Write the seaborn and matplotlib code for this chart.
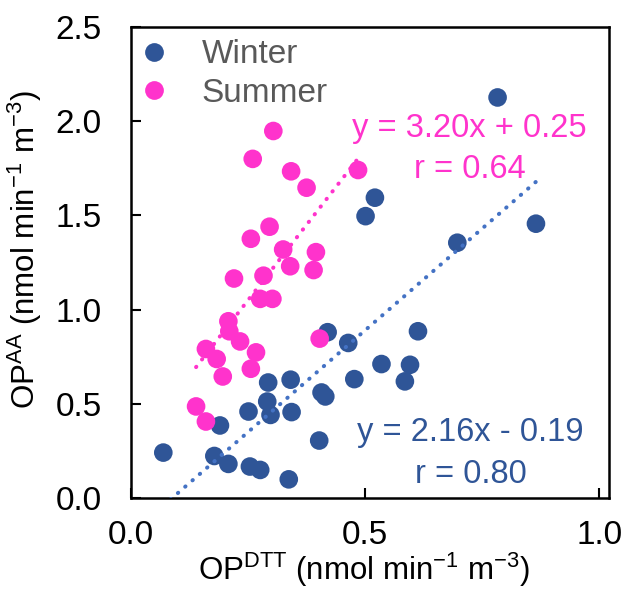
import numpy as np
import pandas as pd
import matplotlib
matplotlib.use("Agg")
import matplotlib.pyplot as plt
import seaborn as sns

# data
winter_dtt = [0.521, 0.501, 0.783, 0.865, 0.697, 0.613, 0.420, 0.464, 0.535, 0.596,
              0.585, 0.293, 0.341, 0.477, 0.407, 0.415, 0.291, 0.251, 0.298, 0.343,
              0.190, 0.402, 0.069, 0.178, 0.208, 0.254, 0.276, 0.337]
winter_aa = [1.594, 1.496, 2.126, 1.456, 1.355, 0.885, 0.880, 0.823, 0.711, 0.707,
             0.619, 0.613, 0.628, 0.631, 0.560, 0.539, 0.512, 0.459, 0.441, 0.456,
             0.385, 0.305, 0.241, 0.223, 0.181, 0.167, 0.149, 0.099]

summer_dtt = [0.304, 0.260, 0.342, 0.375, 0.485, 0.296, 0.256, 0.325, 0.395, 0.340,
              0.390, 0.220, 0.283, 0.276, 0.302, 0.208, 0.210, 0.233, 0.403, 0.160,
              0.183, 0.267, 0.256, 0.196, 0.139, 0.160]
summer_aa = [1.948, 1.800, 1.734, 1.647, 1.741, 1.440, 1.376, 1.319, 1.305, 1.230,
             1.210, 1.165, 1.180, 1.057, 1.057, 0.938, 0.885, 0.831, 0.846, 0.791,
             0.738, 0.773, 0.686, 0.645, 0.486, 0.406]

# trendline coefficients as printed on the chart
winter_fit = (2.16, -0.19)
summer_fit = (3.20, 0.25)
winter_txt = "y = 2.16x - 0.19\nr = 0.80"
summer_txt = "y = 3.20x + 0.25\nr = 0.64"

seasons = ["Winter", "Summer"]
colors = {"Winter": "#2F5597", "Summer": "#FF33CC"}
line_colors = {"Winter": "#4472C4", "Summer": "#FF33CC"}

df = pd.DataFrame({
    "dtt": winter_dtt + summer_dtt,
    "aa": winter_aa + summer_aa,
    "season": ["Winter"] * len(winter_dtt) + ["Summer"] * len(summer_dtt),
})

sns.set_style("ticks")
plt.rcParams["font.family"] = ["Liberation Sans", "DejaVu Sans"]
plt.rcParams["mathtext.fontset"] = "custom"
plt.rcParams["mathtext.rm"] = "Liberation Sans"
plt.rcParams["mathtext.it"] = "Liberation Sans:italic"
plt.rcParams["text.color"] = "black"
plt.rcParams["axes.labelcolor"] = "black"

fig = plt.figure(figsize=(6.34, 5.89), dpi=100)
ax = fig.add_axes([131 / 634, 1 - 498 / 589, 478 / 634, 471 / 589])

sns.scatterplot(data=df, x="dtt", y="aa", hue="season", hue_order=seasons,
                palette=colors, s=180, linewidth=0, alpha=1, ax=ax, zorder=3)

# trendlines over each season's x range
for name, xs, (m, b) in [("Winter", winter_dtt, winter_fit), ("Summer", summer_dtt, summer_fit)]:
    xx = np.array([min(xs), max(xs)])
    ax.plot(xx, m * xx + b, color=line_colors[name], lw=2.9,
            linestyle=(0, (0.1, 2.3)), dash_capstyle="round", zorder=4)

ax.text(0.723, 1.85, summer_txt, color=colors["Summer"], fontsize=23.5,
        ha="center", va="center", linespacing=1.42)
ax.text(0.725, 0.236, winter_txt, color=colors["Winter"], fontsize=23.5,
        ha="center", va="center", linespacing=1.42)

ax.set_xlim(0, 1.021)
ax.set_ylim(0, 2.5)
ax.set_xticks([0, 0.5, 1.0])
ax.set_yticks([0, 0.5, 1.0, 1.5, 2.0, 2.5])
ax.xaxis.set_major_formatter(matplotlib.ticker.FormatStrFormatter("%.1f"))
ax.yaxis.set_major_formatter(matplotlib.ticker.FormatStrFormatter("%.1f"))
ax.tick_params(direction="in", length=7, width=1.5, labelsize=24, pad=16,
               color="black", labelcolor="black", bottom=True, left=True)
ax.tick_params(axis="y", pad=21)
for sp in ax.spines.values():
    sp.set_linewidth(1.8)
    sp.set_color("black")

ax.set_xlabel(r"OP$^{\mathrm{DTT}}$ (nmol min$^{\mathrm{-1}}$ m$^{\mathrm{-3}}$)", fontsize=22.5)
ax.xaxis.label.set_va("baseline")
ax.xaxis.set_label_coords(0.487, -(580 - 498) / 471)
ax.set_ylabel(r"OP$^{\mathrm{AA}}$ (nmol min$^{\mathrm{-1}}$ m$^{\mathrm{-3}}$)", fontsize=22.5)
ax.yaxis.set_label_coords(-0.182, 0.527)

leg = ax.legend(loc="upper left", bbox_to_anchor=(0.006, 0.974), frameon=False,
                fontsize=24, labelcolor="#595959", handletextpad=0.84,
                borderaxespad=0, borderpad=0, labelspacing=0.22, handlelength=1.2)
for h in leg.legend_handles:
    if hasattr(h, "set_markersize"):
        h.set_markersize(13.5)
    else:
        h.set_sizes([180])

fig.savefig("out.png", dpi=100)
